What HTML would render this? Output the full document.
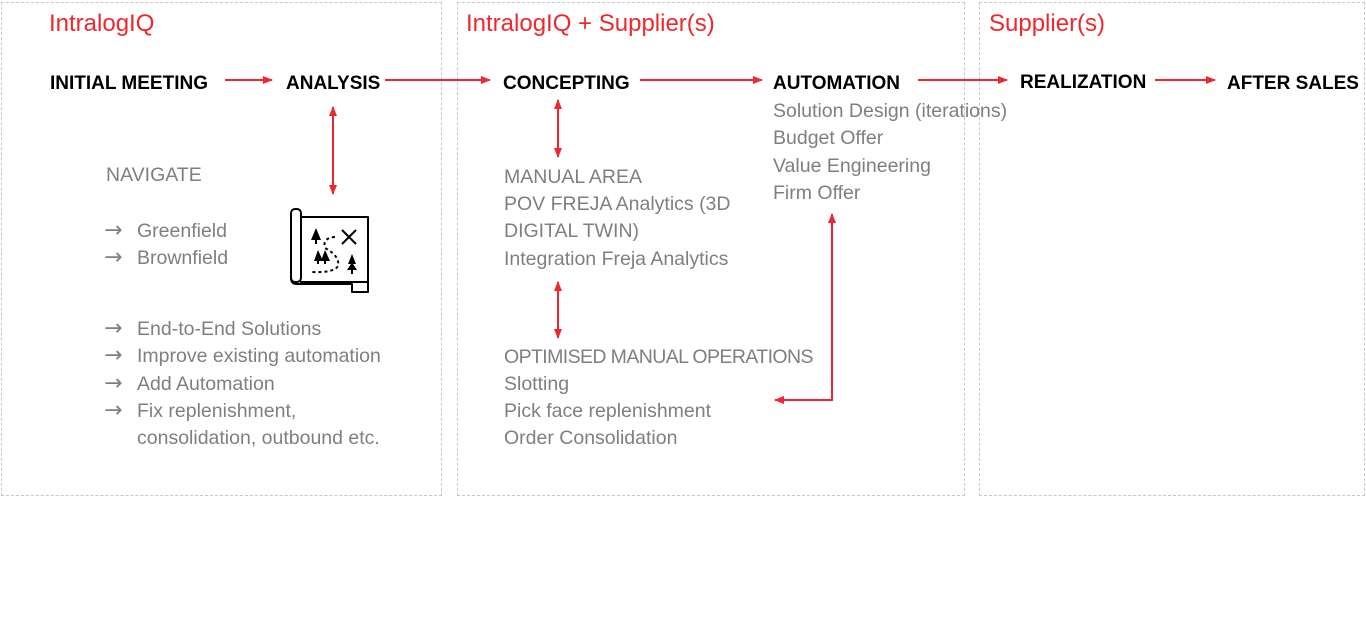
<!DOCTYPE html>
<html><head><meta charset="utf-8"><style>
body{margin:0;width:1366px;height:635px;background:#fff;position:relative;overflow:hidden;font-family:"Liberation Sans",sans-serif}
.box{position:absolute;border:1px dashed #c8c8c8;box-sizing:border-box}
.t{position:absolute;white-space:nowrap;line-height:24px}
.r{color:#f0282d;font-size:24px}
.b{color:#000;font-weight:bold;font-size:19px}
.g{color:#7f7f7f;font-size:19.5px}
.ar{position:absolute;color:#7f7f7f;font-size:22px;line-height:24px;font-family:"DejaVu Sans",sans-serif}
</style></head><body>
<div class="box" style="left:1px;top:2px;width:441px;height:494px"></div>
<div class="box" style="left:457px;top:2px;width:508px;height:494px"></div>
<div class="box" style="left:979px;top:2px;width:386px;height:494px"></div>

<div class="t r" style="left:49px;top:12px">IntralogIQ</div>
<div class="t r" style="left:466px;top:12px">IntralogIQ + Supplier(s)</div>
<div class="t r" style="left:989px;top:12px">Supplier(s)</div>

<div class="t b" style="left:50px;top:72px">INITIAL MEETING</div>
<div class="t b" style="left:286px;top:72px">ANALYSIS</div>
<div class="t b" style="left:503px;top:72px">CONCEPTING</div>
<div class="t b" style="left:773px;top:72px">AUTOMATION</div>
<div class="t b" style="left:1020px;top:71px">REALIZATION</div>
<div class="t b" style="left:1227px;top:72px">AFTER SALES</div>

<div class="t g" style="left:106px;top:163px">NAVIGATE</div>
<div class="ar" style="left:104px;top:219px">→</div><div class="t g" style="left:137px;top:219px">Greenfield</div>
<div class="ar" style="left:104px;top:246px">→</div><div class="t g" style="left:137px;top:246px">Brownfield</div>
<div class="ar" style="left:104px;top:317px">→</div><div class="t g" style="left:137px;top:317px">End-to-End Solutions</div>
<div class="ar" style="left:104px;top:344px">→</div><div class="t g" style="left:137px;top:344px">Improve existing automation</div>
<div class="ar" style="left:104px;top:372px">→</div><div class="t g" style="left:137px;top:372px">Add Automation</div>
<div class="ar" style="left:104px;top:399px">→</div><div class="t g" style="left:137px;top:399px">Fix replenishment,</div>
<div class="t g" style="left:137px;top:426px">consolidation, outbound etc.</div>

<div class="t g" style="left:504px;top:165px">MANUAL AREA</div>
<div class="t g" style="left:504px;top:192px">POV FREJA Analytics (3D</div>
<div class="t g" style="left:504px;top:219px">DIGITAL TWIN)</div>
<div class="t g" style="left:504px;top:247px">Integration Freja Analytics</div>
<div class="t g" style="left:504px;top:345px;letter-spacing:-0.6px">OPTIMISED MANUAL OPERATIONS</div>
<div class="t g" style="left:504px;top:372px">Slotting</div>
<div class="t g" style="left:504px;top:399px">Pick face replenishment</div>
<div class="t g" style="left:504px;top:426px">Order Consolidation</div>

<div class="t g" style="left:773px;top:99px">Solution Design (iterations)</div>
<div class="t g" style="left:773px;top:126px">Budget Offer</div>
<div class="t g" style="left:773px;top:154px">Value Engineering</div>
<div class="t g" style="left:773px;top:181px">Firm Offer</div>

<svg width="1366" height="635" style="position:absolute;left:0;top:0">
<defs><marker id="a" markerWidth="10" markerHeight="8" refX="9" refY="4" orient="auto-start-reverse" markerUnits="userSpaceOnUse"><path d="M0,0L10,4L0,8z" fill="#f0282d"/></marker></defs>
<g stroke="#f0282d" stroke-width="2" fill="none">
<line x1="225" y1="80" x2="272" y2="80" marker-end="url(#a)"/>
<line x1="385" y1="80" x2="490" y2="80" marker-end="url(#a)"/>
<line x1="640" y1="80" x2="762" y2="80" marker-end="url(#a)"/>
<line x1="918" y1="80" x2="1007" y2="80" marker-end="url(#a)"/>
<line x1="1155" y1="80" x2="1215" y2="80" marker-end="url(#a)"/>
<line x1="333" y1="107" x2="333" y2="194" marker-start="url(#a)" marker-end="url(#a)"/>
<line x1="558" y1="100" x2="558" y2="157" marker-start="url(#a)" marker-end="url(#a)"/>
<line x1="558" y1="282" x2="558" y2="338" marker-start="url(#a)" marker-end="url(#a)"/>
<polyline points="832,214 832,400 775,400" marker-start="url(#a)" marker-end="url(#a)"/>
</g>
<g stroke="#000" stroke-width="2" fill="none" stroke-linejoin="round">
<path d="M300,217 H368 V282 H300"/>
<rect x="291" y="209" width="10" height="73" rx="4"/>
<path d="M291,278 Q291,284 297,284 H352 V292 H368 V282"/>
<path d="M342,230 L356,244 M356,230 L342,244"/>
<path d="M335,237 Q322,238 325,248 Q340,256 338,266 Q334,273 312,272" stroke-dasharray="3,3"/>
</g>
<g fill="#000">
<path d="M316,228 L311,240 L315,240 L315,244 L317,244 L317,240 L321,240z"/>
<path d="M318,250 L314,261 L317,261 L317,264 L319,264 L319,261 L323,261z"/>
<path d="M325,250 L321,261 L324,261 L324,264 L326,264 L326,261 L330,261z"/>
<path d="M352,254 L348,264 L351,264 L347,270 L351,270 L351,274 L353,274 L353,270 L357,270 L353,264 L356,264z"/>
</g>
</svg>
</body></html>
